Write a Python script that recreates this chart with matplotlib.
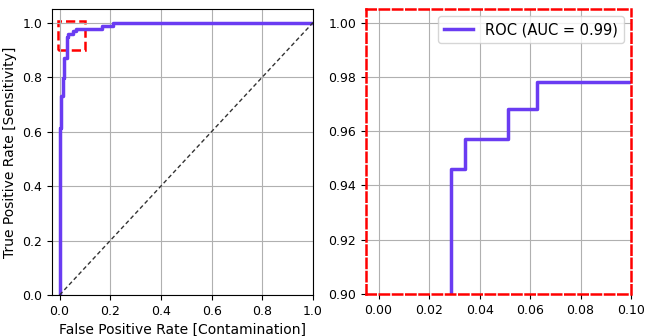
import matplotlib
matplotlib.use("Agg")
import matplotlib.pyplot as plt
from matplotlib.patches import Rectangle

# ROC curve corners (false positive rate, true positive rate)
fpr = [0.0, 0.0, 0.005, 0.005, 0.012, 0.012, 0.017, 0.017, 0.0286, 0.0286,
       0.0343, 0.0343, 0.0514, 0.0514, 0.0629, 0.0629, 0.166, 0.166, 0.211, 0.211, 1.0]
tpr = [0.0, 0.613, 0.613, 0.731, 0.731, 0.796, 0.796, 0.871, 0.871, 0.946,
       0.946, 0.957, 0.957, 0.968, 0.968, 0.978, 0.978, 0.989, 0.989, 1.0, 1.0]
auc_label = "ROC (AUC = 0.99)"

# zoom window
zx = (-0.005, 0.1)
zy = (0.9, 1.005)

roc_color = "#6a3cf2"

fig = plt.figure(figsize=(6.5, 3.36), dpi=100)
ax1 = fig.add_axes([52 / 650, 1 - 295 / 336, 261 / 650, 286 / 336])
ax2 = fig.add_axes([366 / 650, 1 - 294 / 336, 265 / 650, 285 / 336])

ax1.plot(fpr, tpr, color=roc_color, lw=2.5, label=auc_label)
ax1.plot([0, 1], [0, 1], "--", color="#333333", lw=1, dashes=(3, 2))
ax1.add_patch(Rectangle((zx[0], zy[0]), zx[1] - zx[0], zy[1] - zy[0],
                        fill=False, ec="red", ls="--", lw=1.8))
ax1.set_xlim(-0.03, 1.0)
ax1.set_ylim(0, 1.05)
ax1.grid(True, color="#b0b0b0", lw=0.8)
ax1.set_xlabel("False Positive Rate [Contamination]", fontsize=10)
ax1.set_ylabel("True Positive Rate [Sensitivity]", fontsize=10)
ax1.tick_params(labelsize=9)

ax2.plot(fpr, tpr, color=roc_color, lw=2.5, label=auc_label)
ax2.plot([0, 1], [0, 1], "--", color="#333333", lw=1)
ax2.set_xlim(*zx)
ax2.set_ylim(*zy)
ax2.grid(True, color="#b0b0b0", lw=0.8)
ax2.tick_params(labelsize=9)
ax2.set_xticks([0, 0.02, 0.04, 0.06, 0.08, 0.1])
ax2.set_yticks([0.9, 0.92, 0.94, 0.96, 0.98, 1.0])
for s in ax2.spines.values():
    s.set_edgecolor("red")
    s.set_linestyle("--")
    s.set_linewidth(1.8)
ax2.legend(loc="upper right", fontsize=10.5)

fig.savefig("out.png", dpi=100)
